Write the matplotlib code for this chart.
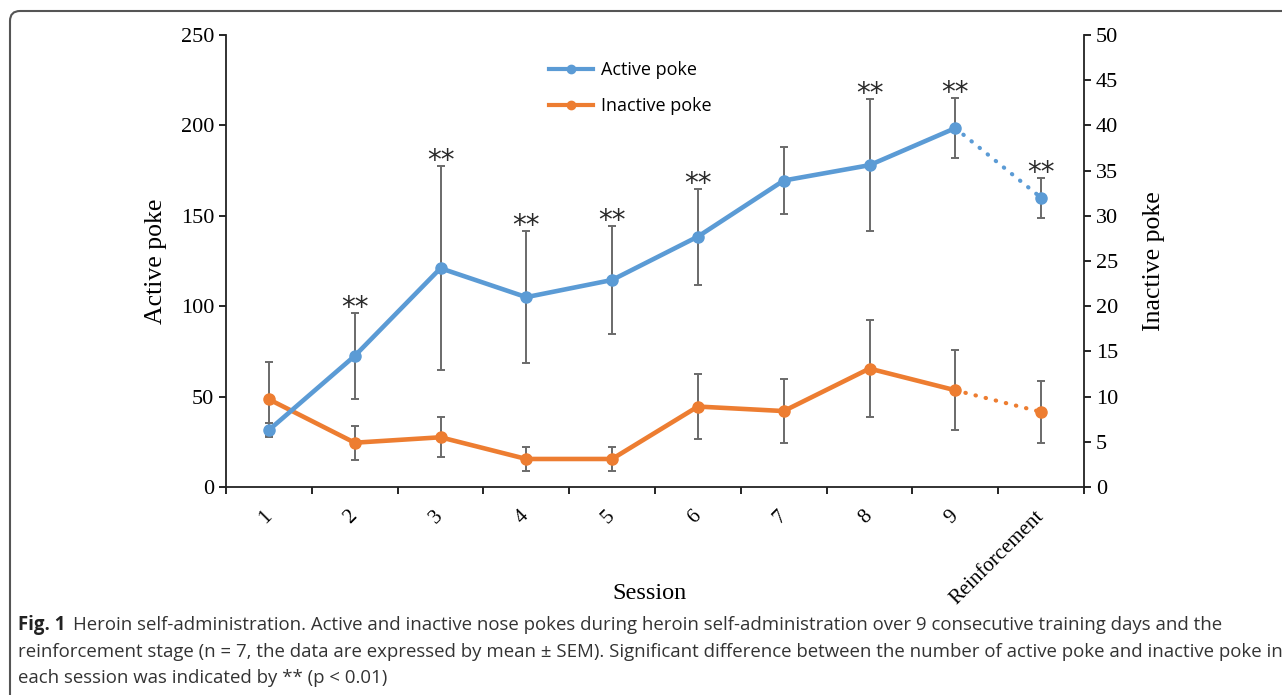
import numpy as np
import matplotlib
matplotlib.use("Agg")
import matplotlib.pyplot as plt
import matplotlib.patches as mpatches
from matplotlib.lines import Line2D

# session labels and mean +/- SEM values
sessions = ["1", "2", "3", "4", "5", "6", "7", "8", "9", "Reinforcement"]
active_mean = [31.5, 72.5, 121, 105, 114.5, 138.5, 169.5, 178, 198.5, 160]
active_sem = [4, 24, 56.5, 36.5, 30, 26.5, 18.5, 36.5, 16.5, 11]
inactive_mean = [9.7, 4.9, 5.5, 3.1, 3.1, 8.9, 8.4, 13.1, 10.7, 8.3]
inactive_sem = [4.1, 1.9, 2.2, 1.3, 1.3, 3.6, 3.5, 5.4, 4.4, 3.4]
# sessions with p < 0.01
significant = [False, True, True, True, True, True, False, True, True, True]

blue = "#5B9BD5"
orange = "#ED7D31"
err_col = "#6a6a6a"
serif = "Liberation Serif"

W, H = 1282, 695
fig = plt.figure(figsize=(W / 100, H / 100), dpi=100)
fig.patch.set_facecolor("white")

ax = fig.add_axes([226 / W, 1 - 487 / H, (1084 - 226) / W, (487 - 35) / H])
ax2 = ax.twinx()

x = np.arange(len(sessions))
main = slice(0, 9)
last = slice(8, 10)
ms = 8
lw = 3.3

# error bars first, lines over them
ax2.errorbar(x, inactive_mean, yerr=inactive_sem, fmt="none", ecolor=err_col,
             elinewidth=1.4, capsize=3, capthick=1.4, zorder=2)
ax2.plot(x[main], inactive_mean[main], color=orange, lw=lw, marker="o", ms=ms,
         solid_capstyle="round", zorder=3)
ax2.plot(x[last], inactive_mean[last], color=orange, lw=3, ls=(0, (0.1, 2.4)),
         dash_capstyle="round", zorder=3)
ax2.plot(x[9], inactive_mean[9], color=orange, marker="o", ms=ms, zorder=3)

ax2.errorbar(x, active_mean, yerr=active_sem, fmt="none", ecolor=err_col,
             elinewidth=1.4, capsize=3, capthick=1.4, zorder=4,
             transform=ax.transData)
ax2.plot(x[main], active_mean[main], color=blue, lw=lw, marker="o", ms=ms,
         solid_capstyle="round", zorder=5, transform=ax.transData)
ax2.plot(x[last], active_mean[last], color=blue, lw=3, ls=(0, (0.1, 2.4)),
         dash_capstyle="round", zorder=5, transform=ax.transData)
ax2.plot(x[9], active_mean[9], color=blue, marker="o", ms=ms, zorder=5,
         transform=ax.transData)

# significance stars
for i, sig in enumerate(significant):
    if sig:
        ax2.annotate("**", (x[i], active_mean[i] + active_sem[i]),
                     xycoords=ax.transData, xytext=(0, 3.5), textcoords="offset points",
                     ha="center", va="center", fontsize=20, color="#2a2a2a",
                     family="DejaVu Sans", zorder=6)

ax.set_xlim(-0.5, 9.5)
ax.set_ylim(0, 250)
ax2.set_ylim(0, 50)
ax.set_yticks(np.arange(0, 251, 50))
ax2.set_yticks(np.arange(0, 51, 5))

# tick marks between sessions, labels at centres
ax.set_xticks(np.arange(-0.5, 10, 1))
ax.set_xticklabels([])
ax.set_xticks(x, minor=True)
ax.set_xticklabels(sessions, minor=True, rotation=45, ha="right", va="center",
                   rotation_mode="anchor", fontsize=15, family=serif)
ax.tick_params(axis="x", which="minor", length=0, pad=19)
ax.tick_params(axis="x", which="major", direction="out", length=5, width=1.2)

for a in (ax, ax2):
    a.tick_params(axis="y", direction="out", length=5, width=1.2, labelsize=16)
    for lab in a.get_yticklabels():
        lab.set_family(serif)
    a.spines["top"].set_visible(False)
    for s in a.spines.values():
        s.set_linewidth(1.3)
        s.set_color("#222222")
    a.set_facecolor("none")
ax.spines["right"].set_visible(False)
ax2.spines["left"].set_visible(False)
ax2.spines["bottom"].set_visible(False)

ax.set_ylabel("Active poke", family=serif, fontsize=18.5, labelpad=10)
ax2.set_ylabel("Inactive poke", family=serif, fontsize=18.5, labelpad=18)
ax.set_xlabel("Session", family=serif, fontsize=17.5, labelpad=8)
ax.xaxis.set_label_coords((650 - 226) / (1084 - 226), -(583 - 487) / (487 - 35))

handles = [Line2D([], [], color=blue, lw=3, marker="o", ms=6),
           Line2D([], [], color=orange, lw=3, marker="o", ms=6)]
ax2.legend(handles, ["Active poke", "Inactive poke"], loc="upper left",
           bbox_to_anchor=(533 / W, 1 - 45 / H), bbox_transform=fig.transFigure,
           frameon=False, handlelength=2.4, handletextpad=0.45, labelspacing=1.0,
           prop={"family": "Open Sans", "size": 13})

# rounded frame around figure and caption
frame = mpatches.FancyBboxPatch((10, -40), W + 40, H - 11 + 40,
                                boxstyle="round,pad=0,rounding_size=10",
                                transform=None, fill=False, ec="#555555", lw=1.5)
fig.add_artist(frame)

cap_font = "Open Sans"
cap_size = 13.4
fig.text(18 / W, 1 - 625 / H, "Fig. 1", fontsize=cap_size, family=cap_font,
         weight="bold", va="center", color="#222222")
fig.text(73 / W, 1 - 625 / H,
         "Heroin self-administration. Active and inactive nose pokes during heroin "
         "self-administration over 9 consecutive training days and the",
         fontsize=cap_size, family=cap_font, va="center", color="#333333")
fig.text(18 / W, 1 - 652 / H,
         "reinforcement stage (n = 7, the data are expressed by mean \u00b1 SEM). "
         "Significant difference between the number of active poke and inactive poke in",
         fontsize=cap_size, family=cap_font, va="center", color="#333333")
fig.text(18 / W, 1 - 678 / H, "each session was indicated by ** (p < 0.01)",
         fontsize=cap_size, family=cap_font, va="center", color="#333333")

fig.savefig("out.png", dpi=100)
